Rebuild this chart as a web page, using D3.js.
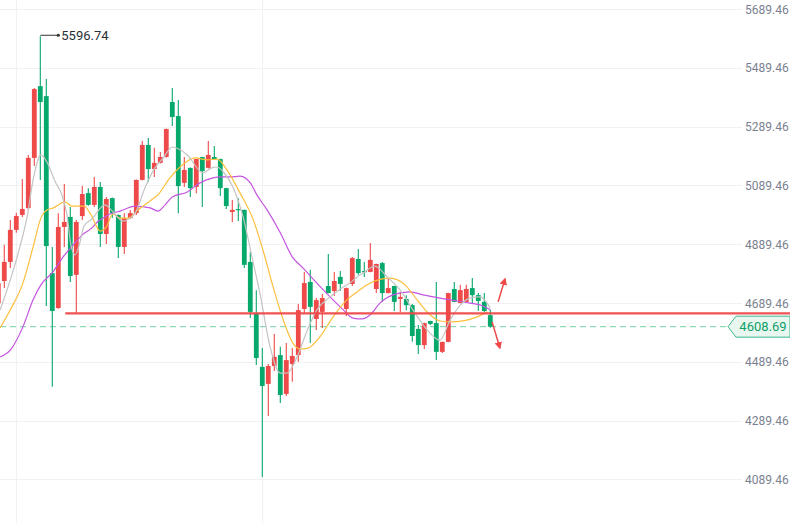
<!DOCTYPE html>
<html><head><meta charset="utf-8">
<script src="https://cdn.jsdelivr.net/npm/d3@7"></script>
<style>html,body{margin:0;padding:0;background:#fff;}svg{display:block;}</style>
</head><body>
<svg id="chart" width="790" height="523"></svg>
<script>
// ---- data ----
const opens  = [4689,4764,4829,4938,4989,5012,5183,5427,5393,4791,4672,4948,4982,4785,4985,5063,5023,5084,4924,5046,4989,4880,4978,4995,5108,5227,5145,5166,5186,5373,5325,5098,5149,5084,5186,5149,5186,5179,5080,4999,5009,5006,4829,4655,4472,4414,4475,4512,4380,4482,4512,4669,4761,4635,4659,4747,4730,4778,4669,4754,4839,4798,4795,4737,4825,4723,4747,4703,4703,4682,4601,4546,4628,4621,4523,4557,4737,4689,4693,4740,4716,4693,4648];
const highs  = [4768,4887,4972,4996,5111,5193,5421,5596.74,5451,4880,4995,5094,5016,4972,5087,5080,5118,5101,5050,5048,4990,4995,5006,5109,5240,5251,5217,5203,5283,5421,5380,5186,5150,5180,5187,5240,5223,5180,5081,5040,5046,5007,4863,4733,4536,4482,4584,4540,4553,4536,4686,4795,4802,4706,4720,4856,4795,4798,4742,4846,4873,4829,4893,4823,4829,4774,4748,4727,4716,4686,4614,4622,4629,4761,4557,4724,4761,4751,4751,4774,4723,4723,4666];
const lows   = [4659,4740,4808,4928,4982,5006,5155,5108,4679,4404,4670,4880,4761,4655,4972,5020,5016,4880,4890,4978,4842,4856,4976,4989,5106,5101,5118,5164,5184,5291,4995,5084,5050,5063,5016,5147,5178,5053,5009,4965,4968,4808,4638,4478,4097,4305,4458,4349,4373,4421,4489,4652,4553,4597,4604,4722,4713,4730,4645,4747,4785,4778,4794,4723,4693,4722,4662,4659,4665,4557,4516,4533,4614,4495,4519,4556,4692,4688,4692,4689,4662,4659,4605];
const closes = [4757,4829,4938,4985,5009,5183,5417,5373,4883,4662,4948,4965,4781,4965,5060,5023,5084,4924,5043,4995,4880,4978,4995,5108,5227,5145,5166,5186,5281,5322,5087,5142,5080,5179,5138,5193,5179,5080,5019,5006,5005,4819,4659,4502,4407,4475,4506,4376,4495,4509,4665,4757,4676,4699,4706,4723,4764,4754,4740,4842,4791,4795,4836,4822,4723,4740,4693,4710,4682,4577,4546,4621,4618,4523,4557,4723,4693,4733,4737,4716,4696,4662,4608.69];

// moving-average lines: [candle index, value]
const maFast = [[0.3,4665],[2,4768],[3.6,4880],[4.8,4982],[5.8,5108],[7.1,5193],[8.1,5169],[9.5,5101],[10.6,5057],[11.5,4982],[12.1,4887],[12.8,4853],[13.5,4887],[14.3,4951],[15.6,4975],[17.8,5023],[19,5002],[20.8,4968],[22,4978],[22.8,4995],[24.5,5084],[26.1,5149],[27.5,5183],[29,5220],[31.5,5193],[34.1,5132],[35.6,5149],[36.5,5152],[37.5,5135],[39.1,5084],[40.8,4982],[42.5,4825],[43.6,4723],[45.3,4540],[47,4451],[48.1,4451],[49.8,4506],[51.5,4597],[53.1,4666],[55.3,4710],[57.5,4744],[58.6,4757],[59.8,4778],[60.8,4791],[62.8,4815],[64.8,4778],[67,4733],[69.1,4666],[71.5,4597],[73.6,4563],[75.3,4631],[77,4682],[78.6,4706],[80.3,4710],[82,4672]];
const maMid = [[0.3,4604],[2,4666],[4.1,4757],[5.8,4880],[7.1,4978],[8.1,5006],[9.1,5012],[11.1,5033],[12.3,5019],[14.3,5019],[15.3,4995],[17,4934],[18,4948],[19.1,4992],[20.3,4978],[21.6,4978],[23.3,5006],[25.5,5040],[26.6,5057],[28.6,5115],[30.3,5152],[32.8,5183],[34.8,5176],[36.5,5179],[38.1,5142],[40.3,5063],[42.5,4972],[44.1,4870],[45.8,4744],[47.5,4631],[49.1,4553],[50.3,4533],[51.6,4536],[53.6,4574],[55.8,4642],[58.1,4700],[59.8,4727],[62,4757],[65.3,4774],[67.8,4751],[69.8,4700],[72,4648],[73.6,4628],[75.8,4625],[78.1,4631],[79.8,4642],[81.5,4659]];
const maSlow = [[0.3,4506],[2,4529],[4.1,4608],[5.8,4700],[7.1,4751],[9.1,4795],[10.8,4846],[12.5,4887],[14,4921],[15.6,4945],[16.5,4965],[17.8,4982],[18.6,4992],[20.3,5002],[22.8,5019],[25.3,5013],[26.6,5002],[27.8,5023],[29,5050],[31.5,5067],[33.6,5098],[35.8,5115],[37,5118],[38.6,5118],[40.3,5121],[42,5098],[43.1,5057],[44.8,5006],[47,4928],[49,4846],[50.8,4808],[53.1,4757],[55.3,4710],[57.5,4666],[59.1,4638],[60.6,4635],[62,4649],[63.6,4689],[65.8,4717],[68.6,4727],[70.8,4717],[73.6,4706],[76.5,4696],[78.6,4689],[80.8,4679],[82,4666]];

const yTicks = [4089.46,4289.46,4489.46,4689.46,4889.46,5089.46,5289.46,5489.46,5689.46];
const lastPrice = 4608.69;
const supportLevel = 4654;
const peakIndex = 7, peakValue = 5596.74;
const arrowUp = [[83.3,4693],[84.45,4771]];
const arrowDown = [[82.3,4625],[83.6,4536]];

// ---- drawing ----
const W = 790, H = 523;
const svg = d3.select("#chart");
const x = d3.scaleLinear().domain([0, 82]).range([-1.7, 490.3]);
const y = d3.scaleLinear().domain([4089.46, 5689.46]).range([479.3, 9]);
const RED = "#ef4a4a", GREEN = "#06a86b";
const font = "Roboto, 'Noto Sans', sans-serif";

const defs = svg.append("defs");
defs.append("clipPath").attr("id","plot").append("rect").attr("x",0).attr("y",0).attr("width",742).attr("height",H);
defs.append("marker").attr("id","arr").attr("viewBox","0 0 10 10").attr("refX",8).attr("refY",5)
  .attr("markerWidth",5).attr("markerHeight",5).attr("orient","auto")
  .append("path").attr("d","M0,0L10,5L0,10z").attr("fill",RED);

// grid
const grid = svg.append("g");
grid.selectAll("line.h").data(yTicks).join("line")
  .attr("x1",0).attr("x2",742).attr("y1",d=>Math.round(y(d))+0.5).attr("y2",d=>Math.round(y(d))+0.5)
  .attr("stroke","#f1f1f3").attr("stroke-width",1);
grid.selectAll("line.v").data([16.5, 262.5]).join("line")
  .attr("x1",d=>d).attr("x2",d=>d).attr("y1",0).attr("y2",H)
  .attr("stroke","#f1f1f3").attr("stroke-width",1);

// y axis labels
const axis = d3.axisRight(y).tickValues(yTicks).tickSize(0).tickFormat(d3.format(".2f"));
const ag = svg.append("g").attr("transform","translate(745,0)").call(axis);
ag.select(".domain").remove();
ag.selectAll("text").attr("x",0).attr("dy","0.35em").attr("fill","#7b8190")
  .style("font-family",font).style("font-size","12px");

const plot = svg.append("g").attr("clip-path","url(#plot)");

// last price dashed line
plot.append("line").attr("x1",0).attr("x2",730).attr("y1",y(lastPrice)).attr("y2",y(lastPrice))
  .attr("stroke","#72cfa5").attr("stroke-width",1).attr("stroke-dasharray","6,4");

// candles
const idx = d3.range(opens.length);
const cg = plot.append("g");
const col = i => closes[i] >= opens[i] ? RED : GREEN;
cg.selectAll("line.wick").data(idx).join("line")
  .attr("x1",i=>x(i)).attr("x2",i=>x(i)).attr("y1",i=>y(highs[i])).attr("y2",i=>y(lows[i]))
  .attr("stroke",col).attr("stroke-width",1.1);
cg.selectAll("rect").data(idx).join("rect")
  .attr("x",i=>x(i)-2.4).attr("width",4.8)
  .attr("y",i=>y(Math.max(opens[i],closes[i])))
  .attr("height",i=>Math.max(1.2, Math.abs(y(opens[i])-y(closes[i]))))
  .attr("fill",col);

// MA lines
const line = d3.line().x(d=>x(d[0])).y(d=>y(d[1])).curve(d3.curveMonotoneX);
plot.append("path").datum(maSlow).attr("d",line).attr("fill","none").attr("stroke","#c455e0").attr("stroke-width",1.2);
plot.append("path").datum(maMid).attr("d",line).attr("fill","none").attr("stroke","#fbbf3c").attr("stroke-width",1.2);
plot.append("path").datum(maFast).attr("d",line).attr("fill","none").attr("stroke","#c4c4c4").attr("stroke-width",1.2);

// support line
svg.append("line").attr("x1",x(13)-11).attr("x2",W).attr("y1",y(supportLevel)).attr("y2",y(supportLevel))
  .attr("stroke",RED).attr("stroke-width",2.4).attr("opacity",0.95);

// arrows
[arrowUp, arrowDown].forEach(a => {
  svg.append("line").attr("x1",x(a[0][0])).attr("y1",y(a[0][1])).attr("x2",x(a[1][0])).attr("y2",y(a[1][1]))
    .attr("stroke",RED).attr("stroke-width",1.5).attr("marker-end","url(#arr)");
});

// peak annotation
const px = x(peakIndex), py = y(peakValue) - 1;
svg.append("line").attr("x1",px).attr("x2",px+18).attr("y1",py).attr("y2",py).attr("stroke","#333").attr("stroke-width",1);
svg.append("circle").attr("cx",px+18).attr("cy",py).attr("r",1.6).attr("fill","#333");
svg.append("text").attr("x",px+21).attr("y",py).attr("dy","0.35em").text(peakValue.toFixed(2))
  .attr("fill","#2b2f36").style("font-family",font).style("font-size","13px");

// last price tag
const ly = y(lastPrice);
svg.append("path").attr("d",`M728,${ly} L736,${ly-10.5} L790,${ly-10.5} L790,${ly+10.5} L736,${ly+10.5} Z`)
  .attr("fill","#e8f7ef").attr("stroke","#3cb98a").attr("stroke-width",1);
svg.append("text").attr("x",763).attr("y",ly).attr("dy","0.35em").attr("text-anchor","middle")
  .text(lastPrice.toFixed(2)).attr("fill","#0f9f6a").style("font-family",font).style("font-size","13px");
</script>
</body></html>
